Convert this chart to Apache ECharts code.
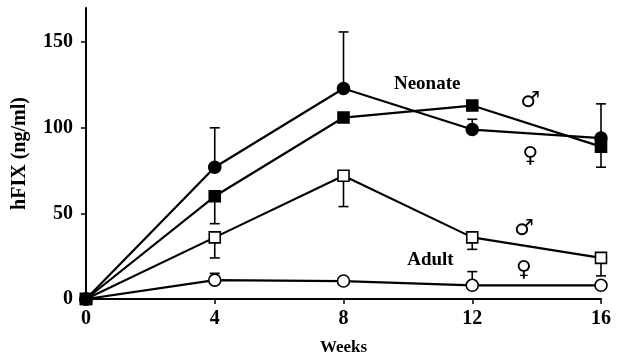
<!DOCTYPE html>
<html>
<head>
<meta charset="utf-8">
<script src="https://cdn.jsdelivr.net/npm/echarts@6/dist/echarts.min.js"></script>
<style>
  html, body { margin: 0; padding: 0; background: #fff; }
  #chart { width: 623px; height: 357px; }
</style>
</head>
<body>
<div id="chart"></div>
<script>
// Plasma hFIX levels over time, neonate vs adult, by sex
const weeks = [0, 4, 8, 12, 16];
const yTicks = [0, 50, 100, 150];

const neonateMale = [0, 60, 106, 113, 89];
const neonateFemale = [0, 77, 123, 99, 94];
const adultMale = [0, 36, 72, 36, 24];
const adultFemale = [0, 11, 10.5, 8, 8];

// one-sided error bars (SEM): positive = upward, negative = downward
const neonateMaleErr = [0, -16, 0, 0, -12];
const neonateFemaleErr = [0, 23, 33, 6, 20];
const adultMaleErr = [0, -12, -18, -7, -10.5];
const adultFemaleErr = [0, 4, 0, 8, 0];

// group labels and sex symbols, placed in data coordinates
const groupText = ['Neonate', 'Adult'];
const groupX = [10.6, 10.7];
const groupY = [125.5, 22.5];

const sexText = ['\u2642', '\u2640', '\u2642', '\u2640'];
const sexX = [13.8, 13.8, 13.6, 13.6];
const sexY = [115.5, 83.5, 41, 17];

const FONT = 'Liberation Serif';

function pairs(ys) { return weeks.map((w, i) => [w, ys[i]]); }
function errData(ys, errs) {
  const out = [];
  weeks.forEach((w, i) => { if (errs[i] !== 0) out.push([w, ys[i], ys[i] + errs[i]]); });
  return out;
}

function lineSeries(name, ys, symbol, filled) {
  return {
    name, type: 'line', data: pairs(ys), z: 3,
    symbol, symbolSize: symbol === 'rect' ? 11 : 12, showAllSymbol: true,
    lineStyle: { color: '#000', width: 2.2 },
    itemStyle: { color: filled ? '#000' : '#fff', borderColor: '#000', borderWidth: 1.6 },
    emphasis: { disabled: true }, animation: false
  };
}

function errSeries(ys, errs) {
  return {
    type: 'custom', data: errData(ys, errs), z: 2, animation: false,
    renderItem(params, api) {
      const p0 = api.coord([api.value(0), api.value(1)]);
      const p1 = api.coord([api.value(0), api.value(2)]);
      const style = { stroke: '#000', lineWidth: 1.6 };
      return {
        type: 'group',
        children: [
          { type: 'line', shape: { x1: p0[0], y1: p0[1], x2: p1[0], y2: p1[1] }, style },
          { type: 'line', shape: { x1: p1[0] - 5, y1: p1[1], x2: p1[0] + 5, y2: p1[1] }, style }
        ]
      };
    }
  };
}

function textSeries(texts, xs, ys, family, size) {
  return {
    type: 'scatter', symbolSize: 0, z: 4, animation: false, silent: true,
    data: texts.map((t, i) => ({ value: [xs[i], ys[i]], name: t })),
    label: {
      show: true, position: 'inside', formatter: p => p.name,
      fontFamily: family, fontWeight: 'bold', fontSize: size,
      color: '#000', textBorderWidth: 0, opacity: 1
    },
    emphasis: { disabled: true }
  };
}

const chart = echarts.init(document.getElementById('chart'), null, { renderer: 'canvas' });

chart.setOption({
  backgroundColor: '#fff',
  animation: false,
  grid: { left: 86, right: 22, top: 8, bottom: 58, containLabel: false, outerBoundsMode: 'none' },
  xAxis: {
    type: 'value', min: 0, max: 16, interval: 4,
    name: 'Weeks', nameLocation: 'middle', nameGap: 40,
    nameTextStyle: { fontFamily: FONT, fontWeight: 'bold', fontSize: 17, color: '#000' },
    axisLine: { lineStyle: { color: '#000', width: 2 } },
    axisTick: { show: true, length: 5, lineStyle: { color: '#000', width: 1.5 } },
    axisLabel: { fontFamily: FONT, fontWeight: 'bold', fontSize: 20, color: '#000', margin: 10 },
    splitLine: { show: false }
  },
  yAxis: {
    type: 'value', min: 0, max: 170,
    name: 'hFIX (ng/ml)', nameLocation: 'middle', nameGap: 56, nameRotate: 90,
    nameTextStyle: { fontFamily: FONT, fontWeight: 'bold', fontSize: 20, color: '#000' },
    axisLine: { show: true, lineStyle: { color: '#000', width: 2 } },
    axisTick: { show: true, length: 5, customValues: yTicks, lineStyle: { color: '#000', width: 1.5 } },
    axisLabel: { customValues: yTicks, fontFamily: FONT, fontWeight: 'bold', fontSize: 20, color: '#000', margin: 13 },
    splitLine: { show: false }
  },
  series: [
    errSeries(neonateMale, neonateMaleErr),
    errSeries(neonateFemale, neonateFemaleErr),
    errSeries(adultMale, adultMaleErr),
    errSeries(adultFemale, adultFemaleErr),
    lineSeries('Adult female', adultFemale, 'circle', false),
    lineSeries('Adult male', adultMale, 'rect', false),
    lineSeries('Neonate female', neonateFemale, 'circle', true),
    lineSeries('Neonate male', neonateMale, 'rect', true),
    textSeries(groupText, groupX, groupY, FONT, 19),
    textSeries(sexText, sexX, sexY, 'DejaVu Sans', 22)
  ]
});
</script>
</body>
</html>
